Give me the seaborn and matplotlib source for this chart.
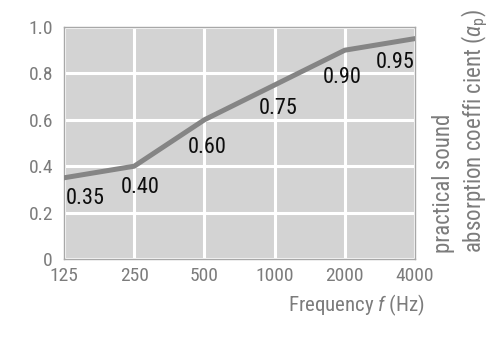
import matplotlib
matplotlib.use("Agg")
import matplotlib.pyplot as plt
import seaborn as sns
import pandas as pd

# Octave-band centre frequencies and practical absorption coefficients
frequencies = [125, 250, 500, 1000, 2000, 4000]
alpha_p = [0.35, 0.40, 0.60, 0.75, 0.90, 0.95]
value_labels = ["0.35", "0.40", "0.60", "0.75", "0.90", "0.95"]
y_ticks = [0, 0.2, 0.4, 0.6, 0.8, 1.0]
y_tick_labels = ["0", "0.2", "0.4", "0.6", "0.8", "1.0"]

sns.set_theme(style="white")

base_font = "Roboto Condensed"
plt.rcParams["font.family"] = [base_font, "DejaVu Sans"]
plt.rcParams["mathtext.fontset"] = "custom"
plt.rcParams["mathtext.rm"] = base_font
plt.rcParams["mathtext.it"] = base_font + ":italic"

GREY_TEXT = "#7c7c7c"
PANEL = "#d3d3d3"
LINE = "#858585"

df = pd.DataFrame({"freq": frequencies, "alpha": alpha_p})

fig = plt.figure(figsize=(5.0, 3.39), dpi=100)
ax = fig.add_axes([64 / 500, 1 - 259 / 339, 351 / 500, 232 / 339])
ax.set_facecolor(PANEL)

sns.lineplot(data=df, x="freq", y="alpha", ax=ax, color=LINE, linewidth=3.6,
             zorder=3)

ax.set_xscale("log", base=2)
ax.set_xlim(125, 4000)
ax.set_ylim(0, 1.0)
ax.set_xticks(frequencies)
ax.set_xticklabels([str(f) for f in frequencies])
ax.minorticks_off()
ax.set_yticks(y_ticks)
ax.set_yticklabels(y_tick_labels)
ax.tick_params(axis="both", length=0, labelsize=14, colors=GREY_TEXT)
ax.tick_params(axis="x", pad=6)
ax.tick_params(axis="y", pad=8)
ax.grid(True, color="white", linewidth=2.2, zorder=1)
ax.set_axisbelow(True)
for s in ax.spines.values():
    s.set_color("#a8a8a8")
    s.set_linewidth(1.0)
ax.set_xlabel("")
ax.set_ylabel("")

# Value labels beneath the curve (offsets in pixels)
offsets = [(2, -21, "left"), (6, -21, "center"), (3, -28, "center"),
           (4, -24, "center"), (-3, -27, "center"), (0, -24, "right")]
for f, a, lab, (dx, dy, ha) in zip(frequencies, alpha_p, value_labels, offsets):
    ax.annotate(lab, xy=(f, a), xytext=(dx, dy), textcoords="offset pixels",
                ha=ha, va="center", fontsize=16, color="#0d0d0d", zorder=4)

fig.text(425 / 500, 1 - 305 / 339, r"Frequency $f$ (Hz)", ha="right",
         va="center", fontsize=15, color=GREY_TEXT)
fig.text(461 / 500, 1 - 253 / 339,
         "practical sound\nabsorption coeffi cient ($\\alpha_\\mathrm{p}$)",
         rotation=90, ha="center", va="bottom", multialignment="left",
         fontsize=16.5, color=GREY_TEXT, linespacing=1.2)

fig.savefig("out.png", dpi=100, facecolor="white")
